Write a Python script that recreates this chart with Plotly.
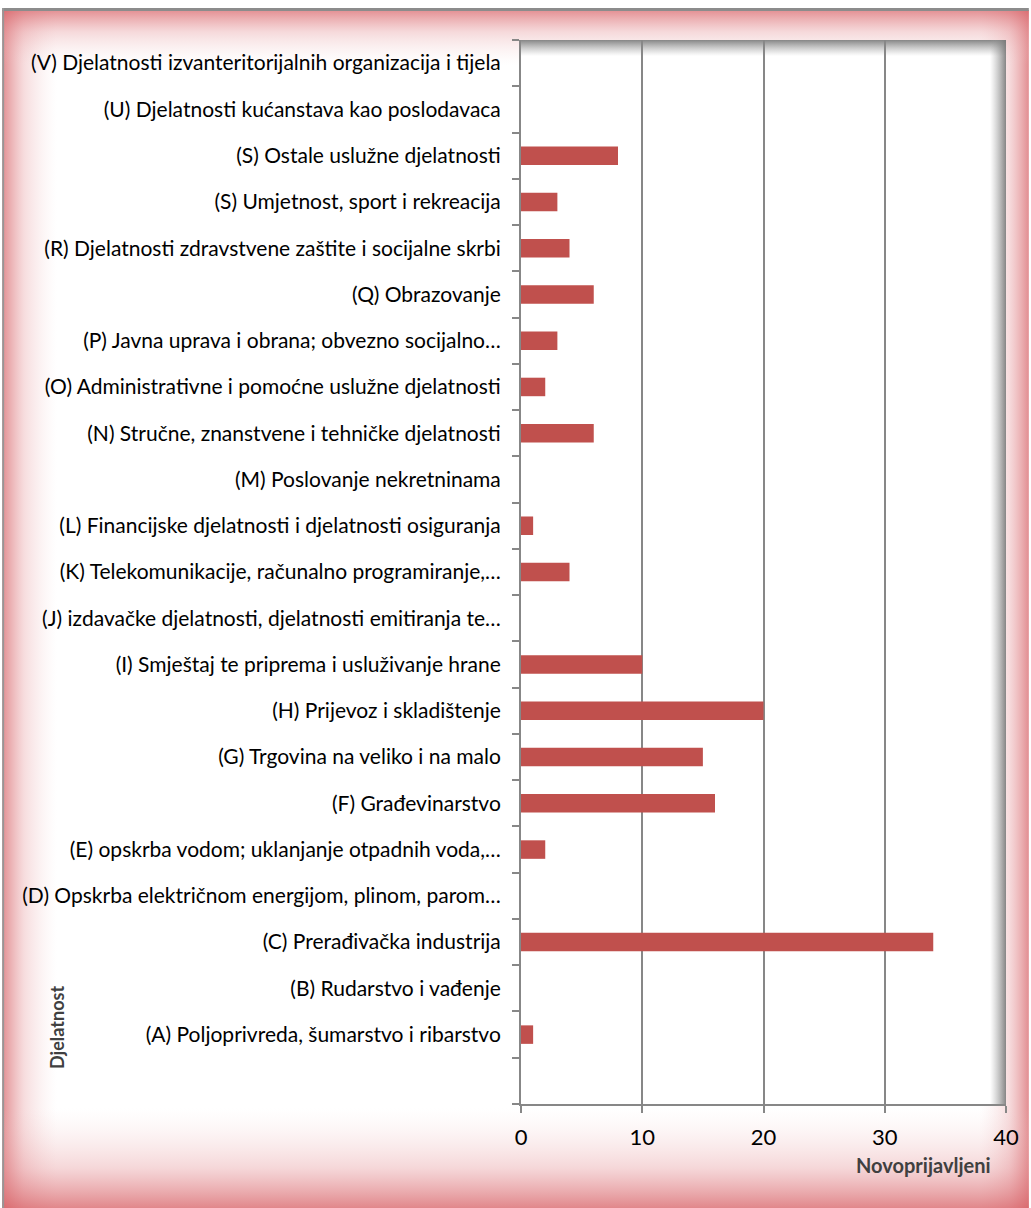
import base64
import plotly.graph_objects as go

categories = [
    " ",
    "(A) Poljoprivreda, šumarstvo i ribarstvo",
    "(B) Rudarstvo i vađenje",
    "(C) Prerađivačka industrija",
    "(D) Opskrba električnom energijom, plinom, parom…",
    "(E) opskrba vodom; uklanjanje otpadnih voda,…",
    "(F) Građevinarstvo",
    "(G) Trgovina na veliko i na malo",
    "(H) Prijevoz i skladištenje",
    "(I) Smještaj te priprema i usluživanje hrane",
    "(J) izdavačke djelatnosti, djelatnosti emitiranja te…",
    "(K) Telekomunikacije, računalno programiranje,…",
    "(L) Financijske djelatnosti i djelatnosti osiguranja",
    "(M) Poslovanje nekretninama",
    "(N) Stručne, znanstvene i tehničke djelatnosti",
    "(O) Administrativne i pomoćne uslužne djelatnosti",
    "(P) Javna uprava i obrana; obvezno socijalno…",
    "(Q) Obrazovanje",
    "(R) Djelatnosti zdravstvene zaštite i socijalne skrbi",
    "(S) Umjetnost, sport i rekreacija",
    "(S) Ostale uslužne djelatnosti",
    "(U) Djelatnosti kućanstava kao poslodavaca",
    "(V) Djelatnosti izvanteritorijalnih organizacija i tijela",
]
novoprijavljeni = [0, 1, 0, 34, 0, 2, 16, 15, 20, 10, 0, 4, 1, 0, 6, 2, 3, 6, 4, 3, 8, 0, 0]
x_ticks = [0, 10, 20, 30, 40]

W, H = 1031, 1208
L, R, T, B = 521, 23, 40, 104
pw, ph = W - L - R, H - T - B

svg = f'''<svg xmlns="http://www.w3.org/2000/svg" width="{W}" height="{H}" viewBox="0 0 {W} {H}" preserveAspectRatio="none">
<defs>
<linearGradient id="gl" x1="0" y1="0" x2="1" y2="0">
<stop offset="0" stop-color="rgb(210,80,85)" stop-opacity="0.65"/>
<stop offset="0.4" stop-color="rgb(225,130,135)" stop-opacity="0.28"/>
<stop offset="1" stop-color="rgb(240,200,200)" stop-opacity="0"/>
</linearGradient>
<linearGradient id="gr" x1="1" y1="0" x2="0" y2="0">
<stop offset="0" stop-color="rgb(210,80,85)" stop-opacity="0.65"/>
<stop offset="0.4" stop-color="rgb(225,130,135)" stop-opacity="0.28"/>
<stop offset="1" stop-color="rgb(240,200,200)" stop-opacity="0"/>
</linearGradient>
<linearGradient id="gt" x1="0" y1="0" x2="0" y2="1">
<stop offset="0" stop-color="rgb(215,95,100)" stop-opacity="0.7"/>
<stop offset="0.4" stop-color="rgb(225,130,135)" stop-opacity="0.3"/>
<stop offset="1" stop-color="rgb(240,200,200)" stop-opacity="0"/>
</linearGradient>
<linearGradient id="gb" x1="0" y1="1" x2="0" y2="0">
<stop offset="0" stop-color="rgb(215,95,100)" stop-opacity="0.75"/>
<stop offset="0.4" stop-color="rgb(225,130,135)" stop-opacity="0.32"/>
<stop offset="1" stop-color="rgb(240,200,200)" stop-opacity="0"/>
</linearGradient>
<linearGradient id="st" x1="0" y1="0" x2="0" y2="1">
<stop offset="0" stop-color="rgb(120,120,120)" stop-opacity="0.9"/>
<stop offset="1" stop-color="rgb(160,160,160)" stop-opacity="0"/>
</linearGradient>
<linearGradient id="sr" x1="1" y1="0" x2="0" y2="0">
<stop offset="0" stop-color="rgb(120,120,120)" stop-opacity="0.9"/>
<stop offset="1" stop-color="rgb(160,160,160)" stop-opacity="0"/>
</linearGradient>
</defs>
<rect x="0" y="0" width="{W}" height="{H}" fill="white"/>
<rect x="0" y="10" width="55" height="{H-10}" fill="url(#gl)"/>
<rect x="{W-50}" y="10" width="50" height="{H-10}" fill="url(#gr)"/>
<rect x="0" y="10" width="{W}" height="55" fill="url(#gt)"/>
<rect x="0" y="{H-100}" width="{W}" height="100" fill="url(#gb)"/>
<rect x="0" y="8" width="{W}" height="3" fill="rgb(140,140,140)"/>
<rect x="0" y="8" width="2" height="{H-8}" fill="rgb(150,150,150)"/>
<rect x="{L}" y="{T}" width="{pw}" height="{ph}" fill="white"/>
<rect x="{L}" y="{T}" width="{pw}" height="16" fill="url(#st)"/>
<rect x="{L+pw-16}" y="{T}" width="16" height="{ph}" fill="url(#sr)"/>
</svg>'''
src = "data:image/svg+xml;base64," + base64.b64encode(svg.encode("utf-8")).decode()

fig = go.Figure()
fig.add_trace(go.Bar(
    x=novoprijavljeni, y=categories, orientation="h",
    marker=dict(color="#C0504D", line=dict(width=0)),
    width=0.4, hoverinfo="x+y",
))

fig.update_layout(
    width=W, height=H,
    margin=dict(l=L, r=R, t=T, b=B, pad=0),
    paper_bgcolor="white",
    plot_bgcolor="rgba(0,0,0,0)",
    showlegend=False,
    font=dict(family="Lato, Carlito, Calibri, sans-serif", color="#000000"),
    images=[dict(
        source=src, xref="paper", yref="paper",
        x=-L / pw, y=1 + T / ph, sizex=W / pw, sizey=H / ph,
        xanchor="left", yanchor="top", sizing="stretch", layer="below",
    )],
    xaxis=dict(
        range=[0, 40], tickvals=x_ticks, ticktext=[str(v) for v in x_ticks],
        showgrid=True, gridcolor="#878787", gridwidth=2,
        showline=True, linecolor="#878787", linewidth=2,
        ticks="outside", ticklen=7, tickwidth=2, tickcolor="#878787",
        tickfont=dict(size=22, color="#000000"),
        zeroline=False, ticklabelstandoff=6,
    ),
    yaxis=dict(
        type="category", categoryorder="array", categoryarray=categories,
        range=[-0.5, len(categories) - 0.5],
        showgrid=False, showline=True, linecolor="#878787", linewidth=2,
        ticks="outside", tickson="boundaries", ticklen=7, tickwidth=2,
        tickcolor="#878787",
        tickfont=dict(size=21, color="#000000"),
        ticklabelstandoff=14,
    ),
    annotations=[
        dict(text="<b>Novoprijavljeni</b>", xref="paper", yref="paper",
             x=(995 - L) / pw, y=-(1165 - (H - B)) / ph,
             xanchor="right", yanchor="middle", showarrow=False,
             font=dict(size=20, color="#404040")),
        dict(text="<b>Djelatnost</b>", xref="paper", yref="paper",
             x=-(L - 55) / pw, y=(H - B - 1027) / ph, textangle=-90,
             xanchor="center", yanchor="middle", showarrow=False,
             font=dict(size=18, color="#404040")),
    ],
)

fig.write_html("out.html", config={"displayModeBar": False},
               post_script="document.body.style.margin='0';document.body.style.padding='0';")
